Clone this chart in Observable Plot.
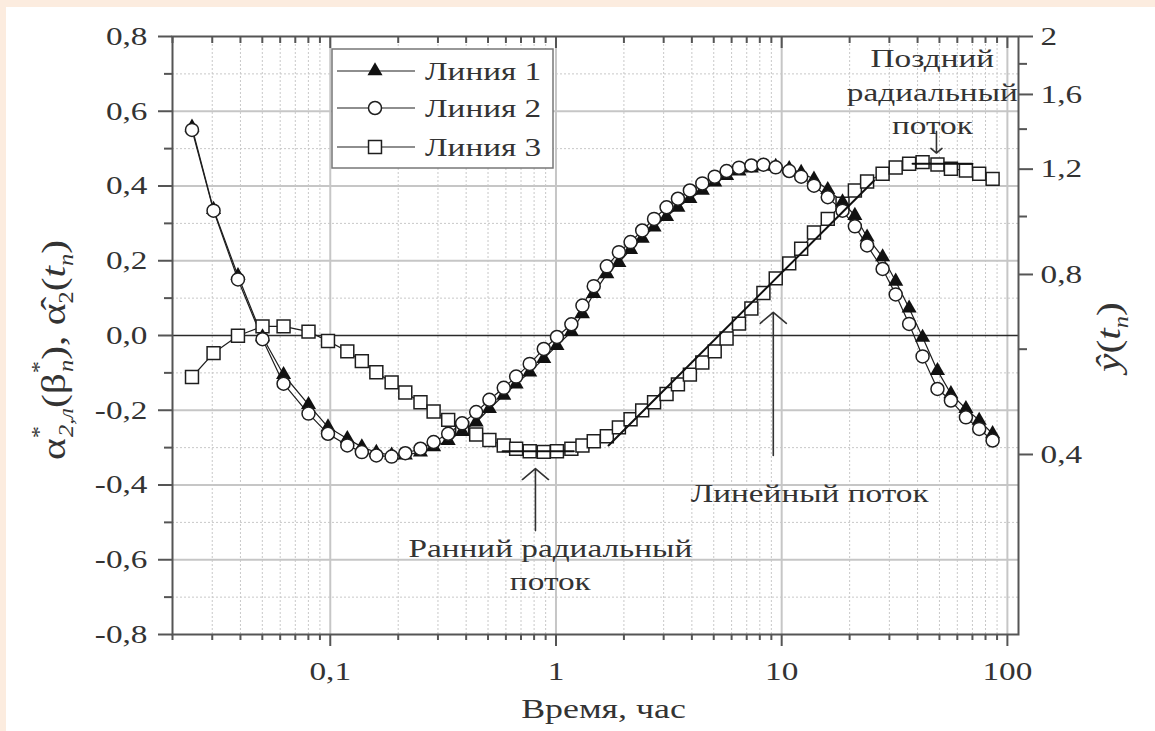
<!DOCTYPE html>
<html>
<head>
<meta charset="utf-8">
<script src="https://cdn.jsdelivr.net/npm/d3@7"></script>
<script src="https://cdn.jsdelivr.net/npm/@observablehq/plot@0.6"></script>
<style>
  html, body { margin: 0; padding: 0; background: #fcecdf; }
  #panel { position: absolute; left: 6px; top: 7px; width: 1149px; height: 724px; background: #fff; }
</style>
</head>
<body>
<div id="panel"></div>
<script>
// Time grid, hours
const time = [0.0244, 0.0304, 0.039, 0.0501, 0.0621, 0.0801, 0.0977, 0.119, 0.138, 0.160,
  0.187, 0.215, 0.251, 0.287, 0.333, 0.384, 0.443, 0.507, 0.587, 0.666,
  0.765, 0.883, 1.01, 1.17, 1.31, 1.47, 1.68, 1.90, 2.14, 2.41,
  2.72, 3.09, 3.47, 3.92, 4.45, 5.05, 5.70, 6.47, 7.34, 8.30,
  9.41, 10.8, 12.2, 13.9, 16.0, 18.6, 21.1, 23.9, 28.0, 32.0,
  36.7, 42.1, 49.0, 56.2, 65.5, 75.0, 86.0];

// Линия 1 — α*2,л(β*n), left axis
const line1 = [0.557, 0.337, 0.160, -0.004, -0.105, -0.185, -0.245, -0.276, -0.298, -0.313,
  -0.320, -0.320, -0.312, -0.298, -0.281, -0.257, -0.232, -0.196, -0.160, -0.130,
  -0.098, -0.062, -0.027, 0.010, 0.058, 0.112, 0.165, 0.195, 0.230, 0.260,
  0.290, 0.318, 0.343, 0.366, 0.388, 0.410, 0.428, 0.440, 0.448, 0.453,
  0.452, 0.446, 0.436, 0.418, 0.390, 0.357, 0.321, 0.263, 0.210, 0.145,
  0.073, -0.005, -0.094, -0.156, -0.196, -0.227, -0.263];

// Линия 2 — α̂2(tn), left axis
const line2 = [0.550, 0.334, 0.150, -0.010, -0.129, -0.209, -0.263, -0.294, -0.312, -0.321,
  -0.324, -0.315, -0.303, -0.285, -0.263, -0.235, -0.205, -0.172, -0.140, -0.110,
  -0.076, -0.036, -0.004, 0.030, 0.080, 0.132, 0.185, 0.223, 0.250, 0.281,
  0.312, 0.343, 0.366, 0.388, 0.407, 0.425, 0.440, 0.449, 0.455, 0.457,
  0.450, 0.440, 0.425, 0.401, 0.370, 0.334, 0.292, 0.241, 0.178, 0.110,
  0.031, -0.056, -0.143, -0.174, -0.219, -0.250, -0.281];

// Линия 3 — ŷ(tn), right (log) axis
const line3 = [0.539, 0.591, 0.632, 0.655, 0.655, 0.642, 0.619, 0.595, 0.573, 0.549,
  0.528, 0.508, 0.489, 0.472, 0.457, 0.442, 0.432, 0.423, 0.414, 0.409,
  0.405, 0.404, 0.405, 0.409, 0.414, 0.421, 0.429, 0.444, 0.458, 0.474,
  0.489, 0.505, 0.524, 0.544, 0.570, 0.595, 0.625, 0.662, 0.702, 0.745,
  0.788, 0.835, 0.883, 0.940, 0.991, 1.051, 1.105, 1.144, 1.179, 1.208,
  1.225, 1.233, 1.222, 1.202, 1.194, 1.179, 1.156];

const seriesNames = ["Линия 1", "Линия 2", "Линия 3"];

// Axis ticks
const xTicks = [0.1, 1, 10, 100];
const yTicks = [-0.8, -0.6, -0.4, -0.2, 0, 0.2, 0.4, 0.6, 0.8];
const yMinor = [-0.7, -0.5, -0.3, -0.1, 0.1, 0.3, 0.5, 0.7];
const y2Ticks = [0.4, 0.8, 1.2, 1.6, 2];
const y2Minor = [0.6, 1.0, 1.4, 1.8];
const y2Domain = [0.2, 2];

// Straight-line fits of the flow regimes (time, ŷ)
const earlyRadialFit = [[0.58, 0.405], [1.2, 0.405]];
const linearFit = [[1.71, 0.414], [25.7, 1.149]];
const lateRadialFit = [[38, 1.225], [70, 1.225]];

// Flow-regime labels and pointers (time, left-axis units)
const notes = [
  {t: 0.944, y: -0.530, text: "Ранний радиальный\nпоток"},
  {t: 13.3, y: -0.381, text: "Линейный поток"},
  {t: 46.5, y: 0.781, text: "Поздний\nрадиальный\nпоток"}
];
const pointers = [
  {t: 0.811, from: -0.522, to: -0.356},
  {t: 9.18, from: -0.321, to: 0.062},
  {t: 48.5, from: 0.546, to: 0.488}
];

// minor log ticks: 2..9 × each decade
const minorX = [];
for (const d of [0.01, 0.1, 1, 10]) for (let k = 2; k <= 9; k++) {
  const v = +(k * d).toPrecision(3);
  if (v >= 0.02 && v <= 112) minorX.push(v);
}

// right axis (log, one decade) expressed in left-axis units
const yDomain = [-0.8, 0.8];
const toLeft = v => yDomain[0] + (yDomain[1] - yDomain[0]) * Math.log10(v / y2Domain[0]) / Math.log10(y2Domain[1] / y2Domain[0]);

const comma = d => String(+d.toFixed(1)).replace(".", ",");
const commaY = d => d.toFixed(1).replace(".", ",");

const rows = time.map((t, i) => ({t, l1: line1[i], l2: line2[i], l3: toLeft(line3[i])}));

const ink = "#1e1e1e";
const axisInk = "#555";
const fs = 26;

const plot = Plot.plot({
  width: 1149,
  height: 724,
  marginLeft: 166,
  marginRight: 137,
  marginTop: 29,
  marginBottom: 97,
  x: {type: "log", domain: [0.02, 112]},
  y: {domain: yDomain},
  style: {fontFamily: "Liberation Serif", fontSize: fs + "px", color: "#333", background: "#fff"},
  marks: [
    // grid
    Plot.gridX(minorX, {stroke: "#c8c8c8", strokeOpacity: 1, strokeWidth: 1, strokeDasharray: "2,2"}),
    Plot.gridY(yMinor, {stroke: "#c8c8c8", strokeOpacity: 1, strokeWidth: 1, strokeDasharray: "2,2"}),
    Plot.gridX(xTicks, {stroke: "#c6c6c6", strokeOpacity: 1, strokeWidth: 2}),
    Plot.gridY(yTicks.filter(d => d !== 0 && Math.abs(d) < 0.8), {stroke: "#c6c6c6", strokeOpacity: 1, strokeWidth: 2}),
    Plot.ruleY([0], {stroke: "#2a2a2a", strokeWidth: 1.6}),

    // series lines
    Plot.line(rows, {x: "t", y: "l3", stroke: ink, strokeWidth: 1.2}),
    Plot.line(rows, {x: "t", y: "l1", stroke: ink, strokeWidth: 1.2}),
    Plot.line(rows, {x: "t", y: "l2", stroke: ink, strokeWidth: 1.2}),

    // markers
    Plot.dot(rows, {x: "t", y: "l3", symbol: "square", r: 7.3, fill: "#fff", stroke: ink, strokeWidth: 1.5}),
    Plot.dot(rows, {x: "t", y: "l1", symbol: "triangle", r: 5.6, fill: "#111"}),
    Plot.dot(rows, {x: "t", y: "l2", symbol: "circle", r: 6.5, fill: "#fff", stroke: ink, strokeWidth: 1.5}),

    // regime fits
    ...[earlyRadialFit, linearFit, lateRadialFit].map(seg =>
      Plot.line(seg, {x: d => d[0], y: d => toLeft(d[1]), stroke: "#111", strokeWidth: 2})),

    // pointers and labels
    Plot.arrow(pointers, {x1: "t", x2: "t", y1: "from", y2: "to", stroke: "#333", strokeWidth: 1.6, headLength: 16, headAngle: 100}),
    Plot.text(notes, {x: "t", y: "y", text: "text", lineAnchor: "top", lineHeight: 1.28, fontSize: fs, fill: "#333"}),

    Plot.frame({stroke: axisInk, strokeWidth: 2}),

    // left axis
    Plot.axisY(yTicks, {anchor: "left", tickSize: 14, tickPadding: 11, tickFormat: commaY, label: null, stroke: axisInk, strokeWidth: 2, fill: "#333", fontSize: fs}),
    Plot.axisY(yMinor, {anchor: "left", tickSize: 8, label: null, stroke: axisInk, strokeWidth: 2, fill: "none"}),
    // bottom axis
    Plot.axisX(xTicks, {anchor: "bottom", tickSize: 12, tickPadding: 15, tickFormat: comma, label: null, stroke: axisInk, strokeWidth: 2, fill: "#333", fontSize: fs}),
    Plot.axisX(minorX, {anchor: "bottom", tickSize: 6, label: null, stroke: axisInk, strokeWidth: 2, fill: "none"}),
    // top axis, inward ticks
    Plot.axisX(xTicks, {anchor: "top", tickSize: -11, label: null, stroke: axisInk, strokeWidth: 2, fill: "none"}),
    Plot.axisX(minorX, {anchor: "top", tickSize: -6, label: null, stroke: axisInk, strokeWidth: 2, fill: "none"}),
    // right axis (ŷ, log)
    Plot.axisY(y2Ticks, {anchor: "right", y: toLeft, text: d => comma(d), tickSize: 14, tickPadding: 8, label: null, stroke: axisInk, strokeWidth: 2, fill: "#333", fontSize: fs}),
    Plot.axisY(y2Minor, {anchor: "right", y: toLeft, tickSize: 8, label: null, stroke: axisInk, strokeWidth: 2, fill: "none"}),

    // x-axis title
    Plot.text(["Время, час"], {frameAnchor: "bottom", text: d => d, dy: 75, dx: 8, lineAnchor: "middle", fontSize: 28, fill: "#333"})
  ]
});

// the typeface used is set wide; stretch every label horizontally about its anchor
const stretch = 1.28;
d3.select(plot).selectAll("text").each(function () {
  const tr = this.getAttribute("transform");
  if (tr) this.setAttribute("transform", tr + ` scale(${stretch},1)`);
});

const svg = d3.select(plot);
const font = "Liberation Serif";

// legend
const lg = svg.append("g").attr("transform", "translate(326,42)");
lg.append("rect").attr("width", 221).attr("height", 119)
  .attr("fill", "#fff").attr("stroke", "#777").attr("stroke-width", 1.5);
const legendSymbols = [
  {sym: d3.symbolTriangle, r: 5.6, fill: "#111", stroke: "none"},
  {sym: d3.symbolCircle, r: 6.5, fill: "#fff", stroke: ink},
  {sym: d3.symbolSquare, r: 7.3, fill: "#fff", stroke: ink}
];
const rowY = [22, 59, 98];
seriesNames.forEach((name, i) => {
  const g = lg.append("g").attr("transform", `translate(0,${rowY[i]})`);
  g.append("line").attr("x1", 5).attr("x2", 83).attr("stroke", ink).attr("stroke-width", 1.2);
  const s = legendSymbols[i];
  g.append("path").attr("transform", "translate(43,0)")
    .attr("d", d3.symbol(s.sym, Math.PI * s.r * s.r)())
    .attr("fill", s.fill).attr("stroke", s.stroke).attr("stroke-width", 1.5);
  g.append("text").attr("transform", `translate(93,9) scale(${stretch},1)`)
    .attr("text-anchor", "start")
    .attr("font-family", font).attr("font-size", fs).attr("fill", "#333").text(name);
});

// left axis title: α*2,л(β*n), α̂2(tn)
const yl = svg.append("text")
  .attr("transform", `translate(59,343) rotate(-90) scale(1.22,1)`)
  .attr("text-anchor", "middle").attr("font-family", font).attr("font-size", 34).attr("fill", "#333");
const parts = [
  ["α", 0, 0, null],
  ["*", 0, -19, 20],
  ["2,л", -9, 27, 20, "italic"],
  ["(β", 0, -8, null],
  ["*", 0, -19, 20],
  ["n", -9, 27, 20, "italic"],
  ["), α\u0302", 0, -8, null],
  ["2", 0, 8, 20],
  ["(", 0, -8, null],
  ["t", 0, 0, null, "italic"],
  ["n", 0, 8, 20, "italic"],
  [")", 0, -8, null]
];
parts.forEach(([txt, dx, dy, size, style]) => {
  const t = yl.append("tspan").attr("dx", dx).attr("dy", dy).text(txt);
  if (size) t.attr("font-size", size);
  if (style) t.attr("font-style", style);
});

// right axis title: ŷ(tn)
const yr = svg.append("text")
  .attr("transform", `translate(1114,330) rotate(-90) scale(1.22,1)`)
  .attr("text-anchor", "middle").attr("font-family", font).attr("font-size", 34).attr("fill", "#333");
[["ŷ", 0, 0, null, "italic"], ["(", 0, 0, null], ["t", 0, 0, null, "italic"], ["n", 0, 8, 20, "italic"], [")", 0, -8, null]]
  .forEach(([txt, dx, dy, size, style]) => {
    const t = yr.append("tspan").attr("dx", dx).attr("dy", dy).text(txt);
    if (size) t.attr("font-size", size);
    if (style) t.attr("font-style", style);
  });

document.getElementById("panel").appendChild(plot);
</script>
</body>
</html>
